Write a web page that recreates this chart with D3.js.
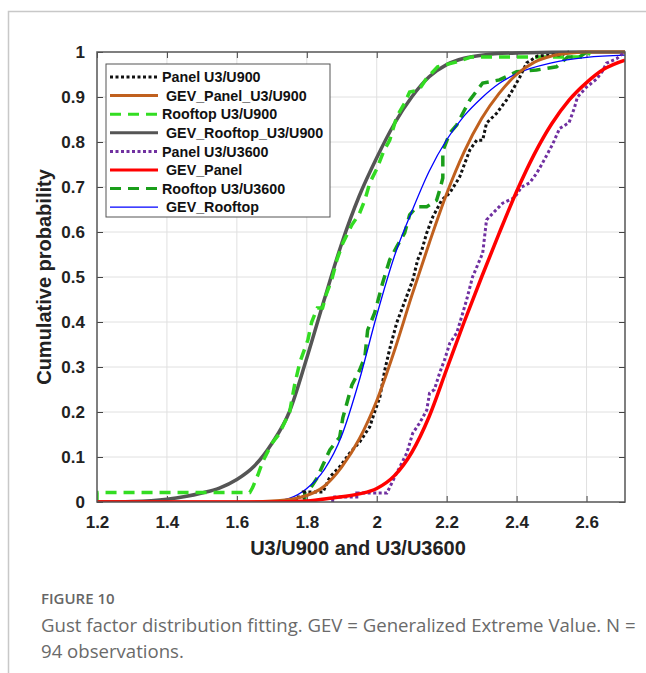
<!DOCTYPE html>
<html>
<head>
<meta charset="utf-8">
<script src="https://cdn.jsdelivr.net/npm/d3@7"></script>
<style>
  body { margin: 0; background: #fff; }
  svg text { font-family: "Liberation Sans", Arial, sans-serif; }
</style>
</head>
<body>
<div id="chart"></div>
<script>
// tick values
const xTicks = [1.2, 1.4, 1.6, 1.8, 2, 2.2, 2.4, 2.6];
const yTicks = [0, 0.1, 0.2, 0.3, 0.4, 0.5, 0.6, 0.7, 0.8, 0.9, 1];

const panelU900 = [[1.77,0],[1.77,0.011],[1.79,0.011],[1.79,0.022],[1.846,0.022],[1.866,0.056],[1.894,0.078],[1.923,0.109],
  [1.951,0.133],[1.98,0.167],[1.994,0.2],[2.009,0.233],[2.023,0.293],[2.037,0.34],[2.057,0.398],[2.074,0.433],[2.103,0.493],
  [2.117,0.538],[2.129,0.56],[2.143,0.598],[2.16,0.633],[2.186,0.671],[2.209,0.687],[2.237,0.722],[2.266,0.782],[2.286,0.804],
  [2.303,0.804],[2.314,0.842],[2.343,0.864],[2.371,0.893],[2.389,0.916],[2.409,0.944],[2.429,0.976],[2.46,0.991],[2.53,0.994],[2.55,1]];
const rooftopU900 = [[1.2,0],[1.2,0.021],[1.637,0.021],[1.645,0.032],[1.66,0.06],[1.674,0.09],[1.7,0.13],[1.72,0.15],[1.751,0.2],
  [1.765,0.26],[1.78,0.31],[1.803,0.36],[1.814,0.4],[1.83,0.431],[1.845,0.431],[1.855,0.46],[1.871,0.493],[1.886,0.538],
  [1.903,0.575],[1.929,0.616],[1.95,0.64],[1.966,0.671],[1.98,0.709],[2.0,0.74],[2.02,0.78],[2.037,0.804],[2.057,0.856],
  [2.08,0.887],[2.094,0.911],[2.12,0.915],[2.143,0.942],[2.174,0.967],[2.229,0.978],[2.271,0.989],[2.6,0.989],[2.61,1]];
const panelU3600 = [[1.874,0],[1.874,0.011],[1.943,0.011],[1.943,0.02],[2.029,0.02],[2.057,0.064],[2.086,0.109],[2.103,0.153],
  [2.123,0.176],[2.143,0.204],[2.151,0.242],[2.165,0.25],[2.18,0.287],[2.194,0.316],[2.209,0.353],[2.229,0.376],[2.246,0.42],
  [2.257,0.449],[2.274,0.5],[2.303,0.553],[2.314,0.627],[2.36,0.664],[2.394,0.676],[2.414,0.7],[2.437,0.709],[2.457,0.73],
  [2.474,0.753],[2.503,0.795],[2.523,0.83],[2.55,0.843],[2.565,0.875],[2.574,0.9],[2.6,0.922],[2.629,0.94],[2.646,0.958],
  [2.657,0.975],[2.686,0.985],[2.703,0.996],[2.71,1]];
const rooftopU3600 = [[1.794,0],[1.794,0.021],[1.81,0.03],[1.829,0.053],[1.846,0.082],[1.866,0.116],[1.894,0.144],[1.903,0.187],
  [1.929,0.26],[1.951,0.293],[1.966,0.322],[1.974,0.382],[1.994,0.42],[2.017,0.487],[2.037,0.538],[2.057,0.567],[2.08,0.598],
  [2.094,0.638],[2.114,0.656],[2.143,0.656],[2.171,0.67],[2.18,0.693],[2.189,0.72],[2.189,0.78],[2.209,0.82],[2.229,0.838],
  [2.251,0.871],[2.266,0.893],[2.303,0.931],[2.351,0.938],[2.4,0.956],[2.457,0.96],[2.514,0.967],[2.546,0.989],[2.58,0.989],[2.6,1]];

// fitted GEV curves
const gevPanelU900 = [[1.2,0],[1.6,0],[1.7,0.002],[1.78,0.01],[1.85,0.035],[1.9,0.078],[1.95,0.14],[2.0,0.225],[2.05,0.335],
  [2.1,0.458],[2.15,0.575],[2.2,0.685],[2.25,0.778],[2.3,0.852],[2.35,0.908],[2.4,0.95],[2.45,0.977],[2.5,0.991],[2.55,0.997],[2.6,1],[2.71,1]];
const gevRooftopU900 = [[1.2,0],[1.3,0.001],[1.4,0.006],[1.5,0.02],[1.55,0.031],[1.6,0.05],[1.65,0.08],[1.7,0.13],[1.75,0.2],
  [1.8,0.32],[1.85,0.45],[1.9,0.575],[1.95,0.68],[2.0,0.765],[2.05,0.84],[2.1,0.9],[2.15,0.945],[2.2,0.972],[2.25,0.986],
  [2.3,0.993],[2.4,0.998],[2.6,1],[2.71,1]];
const gevPanel = [[1.2,0],[1.7,0],[1.8,0.002],[1.874,0.009],[1.95,0.018],[2.0,0.03],[2.05,0.058],[2.1,0.11],[2.15,0.19],
  [2.2,0.295],[2.25,0.4],[2.3,0.5],[2.35,0.597],[2.4,0.69],[2.45,0.772],[2.5,0.84],[2.55,0.893],[2.6,0.932],[2.65,0.962],[2.71,0.982]];
const gevRooftop = [[1.2,0],[1.7,0.001],[1.75,0.008],[1.8,0.03],[1.85,0.072],[1.9,0.148],[1.95,0.27],[2.0,0.415],[2.05,0.545],
  [2.1,0.645],[2.15,0.735],[2.2,0.805],[2.25,0.858],[2.3,0.898],[2.35,0.93],[2.4,0.952],[2.5,0.976],[2.6,0.988],[2.71,0.993]];

const seriesNames = ["Panel U3/U900", " GEV_Panel_U3/U900", "Rooftop U3/U900", " GEV_Rooftop_U3/U900",
  "Panel U3/U3600", " GEV_Panel", "Rooftop U3/U3600", " GEV_Rooftop"];

const width = 646, height = 673;
const margin = {top: 52, right: 21, bottom: 171, left: 97};
const innerW = width - margin.left - margin.right;
const innerH = height - margin.top - margin.bottom;

const svg = d3.select("#chart").append("svg")
  .attr("width", width).attr("height", height);

// figure frame
svg.append("path")
  .attr("d", `M8.5,${height} L8.5,11.5 L${width},11.5`)
  .attr("fill", "none").attr("stroke", "#c8c8c8").attr("stroke-width", 1.5);

const g = svg.append("g").attr("transform", `translate(${margin.left},${margin.top})`);

const x = d3.scaleLinear().domain([1.2, 2.71]).range([0, innerW]);
const y = d3.scaleLinear().domain([0, 1]).range([innerH, 0]);

// grid
g.append("g").selectAll("line").data(xTicks.slice(1)).join("line")
  .attr("x1", d => x(d)).attr("x2", d => x(d)).attr("y1", 0).attr("y2", innerH)
  .attr("stroke", "#e0e0e0").attr("stroke-width", 1);
g.append("g").selectAll("line").data(yTicks.slice(1, -1)).join("line")
  .attr("x1", 0).attr("x2", innerW).attr("y1", d => y(d)).attr("y2", d => y(d))
  .attr("stroke", "#e0e0e0").attr("stroke-width", 1);

// axes
const xAxis = g.append("g").attr("transform", `translate(0,${innerH})`)
  .call(d3.axisBottom(x).tickValues(xTicks).tickFormat(d3.format("")).tickSizeInner(-6).tickSizeOuter(0).tickPadding(14));
const yAxis = g.append("g")
  .call(d3.axisLeft(y).tickValues(yTicks).tickFormat(d3.format("")).tickSizeInner(-6).tickSizeOuter(0).tickPadding(12));
g.append("g").call(d3.axisTop(x).tickValues(xTicks).tickFormat("").tickSizeInner(-6).tickSizeOuter(0));
g.append("g").attr("transform", `translate(${innerW},0)`)
  .call(d3.axisRight(y).tickValues(yTicks).tickFormat("").tickSizeInner(-6).tickSizeOuter(0));
g.selectAll(".domain").remove();
g.selectAll(".tick line").attr("stroke", "#444");
[xAxis, yAxis].forEach(a => a.selectAll("text")
  .attr("font-family", "Liberation Sans, Arial, sans-serif")
  .attr("font-size", 17).attr("font-weight", "bold").attr("fill", "#222"));

// clip for curves
svg.append("defs").append("clipPath").attr("id", "plotClip")
  .append("rect").attr("width", innerW).attr("height", innerH + 2).attr("y", -2);

const stepLine = d3.line().x(d => x(d[0])).y(d => y(d[1]));
const smoothLine = d3.line().x(d => x(d[0])).y(d => y(d[1])).curve(d3.curveMonotoneX);

const styles = [
  {color: "#111111", w: 3, dash: "3 2.5"},
  {color: "#c0601e", w: 3, dash: null},
  {color: "#33dd22", w: 3.5, dash: "11 7"},
  {color: "#555555", w: 3.5, dash: null},
  {color: "#7030a0", w: 3, dash: "3 2.5"},
  {color: "#ff0000", w: 3.5, dash: null},
  {color: "#1a9e1a", w: 3.5, dash: "11 7"},
  {color: "#0000ff", w: 1.3, dash: null}
];

const plot = g.append("g").attr("clip-path", "url(#plotClip)");
const drawOrder = [
  [gevRooftopU900, 3, smoothLine], [rooftopU900, 2, stepLine],
  [rooftopU3600, 6, stepLine], [gevRooftop, 7, smoothLine],
  [panelU900, 0, stepLine], [gevPanelU900, 1, smoothLine],
  [panelU3600, 4, stepLine], [gevPanel, 5, smoothLine]
];
drawOrder.forEach(([data, i, line]) => {
  plot.append("path").datum(data)
    .attr("d", line)
    .attr("fill", "none")
    .attr("stroke", styles[i].color)
    .attr("stroke-width", styles[i].w)
    .attr("stroke-dasharray", styles[i].dash);
});

// plot box
g.append("rect").attr("width", innerW).attr("height", innerH)
  .attr("fill", "none").attr("stroke", "#555").attr("stroke-width", 1.5);

// legend
const legend = g.append("g").attr("transform", "translate(9,12)");
legend.append("rect").attr("width", 224).attr("height", 153)
  .attr("fill", "#fff").attr("stroke", "#555").attr("stroke-width", 1);
const items = legend.selectAll("g.item").data(seriesNames).join("g")
  .attr("class", "item")
  .attr("transform", (d, i) => `translate(0,${13 + i * 18.6})`);
items.append("line")
  .attr("x1", 4).attr("x2", 52)
  .attr("stroke", (d, i) => styles[i].color)
  .attr("stroke-width", (d, i) => Math.min(styles[i].w, 3))
  .attr("stroke-dasharray", (d, i) => styles[i].dash);
items.append("text")
  .attr("x", 56).attr("dy", "0.36em")
  .attr("font-size", 14.3).attr("font-weight", "bold").attr("fill", "#111")
  .attr("xml:space", "preserve")
  .text(d => d);

// axis titles
svg.append("text")
  .attr("x", margin.left + innerW / 2 - 3).attr("y", 555)
  .attr("text-anchor", "middle").attr("font-size", 20).attr("font-weight", "bold").attr("fill", "#222")
  .text("U3/U900 and U3/U3600");
svg.append("text")
  .attr("transform", `translate(51,${margin.top + innerH / 2}) rotate(-90)`)
  .attr("text-anchor", "middle").attr("font-size", 20).attr("font-weight", "bold").attr("fill", "#222")
  .text("Cumulative probability");

// caption
svg.append("text").attr("x", 41).attr("y", 604)
  .style("font-family", "'Open Sans', sans-serif").attr("font-size", 15).attr("font-weight", 600)
  .attr("fill", "#666").text("FIGURE 10");
const cap = svg.append("text").style("font-family", "'Open Sans', sans-serif")
  .attr("font-size", 18.6).attr("fill", "#6a6a6a");
cap.append("tspan").attr("x", 41).attr("y", 632)
  .text("Gust factor distribution fitting. GEV = Generalized Extreme Value. N =");
cap.append("tspan").attr("x", 41).attr("y", 658).text("94 observations.");
</script>
</body>
</html>
